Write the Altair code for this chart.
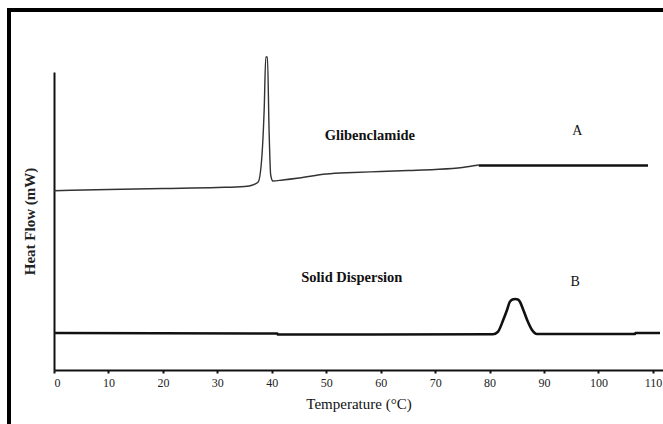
import altair as alt
import pandas as pd

# Curve A (Glibenclamide) - temperature (°C) and heat flow (arbitrary units)
a_temp = [0, 10, 20, 30, 35, 36.5, 37.5, 38.2, 38.6, 38.9, 39.2, 39.5, 39.8, 40.2,
          42, 45, 50, 55, 60, 65, 70, 75, 78]
a_flow = [179.3, 180.5, 181.5, 182.5, 183.5, 185, 188, 215, 260, 313, 313, 240, 195, 189,
          190, 192, 196, 197.5, 198.5, 199.5, 200.5, 202.5, 205]
a_flat_temp = [78, 109.1]
a_flat_flow = [204.5, 204.5]

# Curve B (Solid Dispersion)
b_temp = [0.2, 41, 41.1, 80.6, 81.5, 82.5, 83.2, 83.7, 84.2, 84.7, 85.2, 85.6, 86.2,
          86.9, 87.8, 88.7, 106.7, 106.8, 111.3]
b_flow = [37, 36.5, 35.5, 35.8, 38, 50, 60, 68, 70.5, 71, 70.5, 68, 60,
          50, 40, 36, 36, 37, 37]

x_ticks = [0, 10, 20, 30, 40, 50, 60, 70, 80, 90, 100, 110]

labels_text = ["Glibenclamide", "Solid Dispersion"]
labels_x = [58.0, 54.7]
labels_y = [234, 92]
letters_text = ["A", "B"]
letters_x = [96.1, 95.7]
letters_y = [239, 88]

SERIF = "Liberation Serif"

dfA = pd.DataFrame({"t": a_temp, "h": a_flow})
dfAf = pd.DataFrame({"t": a_flat_temp, "h": a_flat_flow})
dfB = pd.DataFrame({"t": b_temp, "h": b_flow})
dfL = pd.DataFrame({"t": labels_x, "h": labels_y, "txt": labels_text})
dfLe = pd.DataFrame({"t": letters_x, "h": letters_y, "txt": letters_text})

xs = alt.Scale(domain=[0, 111.85], nice=False, zero=False)
ys = alt.Scale(domain=[0, 298], nice=False, zero=False)

xax = alt.Axis(values=x_ticks, title="Temperature (°C)", grid=False,
               domainColor="#111", domainWidth=2, tickColor="#111", tickSize=3,
               tickWidth=2, labelFont=SERIF, labelFontSize=12, labelColor="#222",
               labelPadding=4, titleFont=SERIF, titleFontSize=15,
               titleFontWeight="normal", titleColor="#111", titlePadding=8)
yax = alt.Axis(title="Heat Flow (mW)", grid=False, labels=False, ticks=False,
               domainColor="#111", domainWidth=2, titleFont=SERIF, titleFontSize=15,
               titleFontWeight="bold", titleColor="#222", titlePadding=17)

X = alt.X("t:Q", scale=xs, axis=xax)
Y = alt.Y("h:Q", scale=ys, axis=yax)

lineA = alt.Chart(dfA).mark_line(color="#333", strokeWidth=1.4, interpolate="monotone").encode(
    x=X, y=Y, order="t:Q")
lineAf = alt.Chart(dfAf).mark_line(color="#111", strokeWidth=2.5).encode(
    x=alt.X("t:Q", scale=xs), y=alt.Y("h:Q", scale=ys))
lineB = alt.Chart(dfB).mark_line(color="#111", strokeWidth=2.6, interpolate="monotone").encode(
    x=alt.X("t:Q", scale=xs), y=alt.Y("h:Q", scale=ys), order="t:Q")

lab = alt.Chart(dfL).mark_text(font=SERIF, fontSize=14.5, fontWeight="bold", color="#111").encode(
    x=alt.X("t:Q", scale=xs), y=alt.Y("h:Q", scale=ys), text="txt:N")
let = alt.Chart(dfLe).mark_text(font=SERIF, fontSize=14, color="#111").encode(
    x=alt.X("t:Q", scale=xs), y=alt.Y("h:Q", scale=ys), text="txt:N")

one = pd.DataFrame({"k": [0]})
border_top = alt.Chart(one).mark_rule(color="#000", strokeWidth=4).encode(
    x=alt.value(-47), x2=alt.value(620), y=alt.value(-62))
border_left = alt.Chart(one).mark_rule(color="#000", strokeWidth=4).encode(
    x=alt.value(-45), y=alt.value(-64), y2=alt.value(360))

chart = alt.layer(lineA, lineAf, lineB, lab, let, border_top, border_left).properties(
    width=609, height=298,
    background="white",
    autosize=alt.AutoSizeParams(type="none"),
    padding={"left": 54, "top": 72, "right": 0, "bottom": 54},
).configure_view(stroke=None, strokeWidth=0)

chart.save("out.html", embed_options={"renderer": "svg", "actions": False})
